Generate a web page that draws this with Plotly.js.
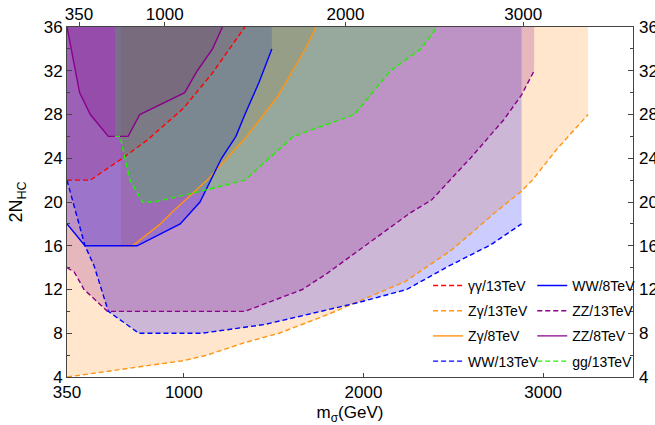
<!DOCTYPE html>
<html>
<head>
<meta charset="utf-8">
<script src="https://cdn.plot.ly/plotly-3.0.1.min.js"></script>
<style>html,body{margin:0;padding:0;background:#fff;}#chart{width:655px;height:425px;}</style>
</head>
<body>
<div id="chart"></div>
<script>
// ---- data ----
const names = ['γγ/13TeV', 'Zγ/13TeV', 'Zγ/8TeV', 'WW/13TeV', 'WW/8TeV', 'ZZ/13TeV', 'ZZ/8TeV', 'gg/13TeV'];

const aa13_x = [350, 480, 650, 800, 1000, 1160, 1340];
const aa13_y = [22, 22, 23.9, 25.7, 28.6, 31.8, 36];

const za13_x = [350, 1000, 1130, 1330, 1530, 1800, 1970, 2230, 2490, 2730, 2880, 2940, 3080, 3250];
const za13_y = [4, 5.5, 6, 7.1, 8, 9.7, 10.9, 12.7, 15.6, 19, 21, 22, 24.9, 28];

const za8_x = [650, 715, 870, 930, 1050, 1130, 1340, 1520, 1680, 1735];
const za8_y = [16, 16, 18, 19, 20.8, 22, 25.8, 29.6, 34.1, 36];

const ww13_x = [350, 450, 500, 580, 750, 1100, 1450, 1780, 1970, 2240, 2470, 2710, 2880];
const ww13_y = [22, 16, 14.2, 10, 8, 8, 8.8, 10.1, 10.8, 12, 14.1, 16.1, 18];

const ww8_x = [350, 450, 740, 980, 1090, 1150, 1210, 1290, 1340, 1420, 1490];
const ww8_y = [18, 16, 16, 18, 20, 22, 24, 26, 28, 31, 34];

const zz13_x = [350, 390, 445, 575, 1340, 1660, 1800, 2260, 2380, 2600, 2780, 2880, 2950];
const zz13_y = [14, 13.6, 12, 10, 10, 12, 13.5, 19, 20.2, 24.1, 27.5, 29.8, 32];

const zz8_x = [350, 385, 420, 480, 580, 690, 755, 1005, 1075, 1160, 1215];
const zz8_y = [36, 33, 30, 28, 26, 26, 28, 30, 32, 34, 36];

const gg13_x = [617, 645, 700, 770, 835, 1050, 1340, 1500, 1610, 1950, 2150, 2320, 2410];
const gg13_y = [26, 26, 22, 20, 20, 20.8, 22, 24.4, 26, 28, 32, 34, 36];

const xRange = [350, 3500];
const yRange = [4, 36];
const bottomTicks = [350, 1000, 2000, 3000];
const topTickVals = [417, 894, 1900, 2889];
const topTickText = ['350', '1000', '2000', '3000'];

// ---- styles ----
const series = [
  {x: aa13_x, y: aa13_y, rgb: '255,0,0',   line: '#ff0000', dash: '5px,3px', legend: 'legend'},
  {x: za13_x, y: za13_y, rgb: '255,128,0', line: '#ff9510', dash: '5px,3px', legend: 'legend'},
  {x: za8_x,  y: za8_y,  rgb: '255,128,0', line: '#ff9510', dash: 'solid',   legend: 'legend'},
  {x: ww13_x, y: ww13_y, rgb: '0,0,255',   line: '#0000ff', dash: '5px,3px', legend: 'legend'},
  {x: ww8_x,  y: ww8_y,  rgb: '0,0,255',   line: '#0000ff', dash: 'solid',   legend: 'legend2'},
  {x: zz13_x, y: zz13_y, rgb: '128,0,128', line: '#8a008a', dash: '5px,3px', legend: 'legend2'},
  {x: zz8_x,  y: zz8_y,  rgb: '128,0,128', line: '#8a008a', dash: 'solid',   legend: 'legend2'},
  {x: gg13_x, y: gg13_y, rgb: '0,255,0',   line: '#22ee00', dash: '5px,3px', legend: 'legend2'}
];

const TOP = yRange[1];
const traces = [];
// filled regions (from each curve up to the top of the frame)
series.forEach((s, i) => {
  const n = s.x.length;
  traces.push({
    type: 'scatter', mode: 'lines',
    x: s.x.concat([s.x[n - 1], s.x[0]]),
    y: s.y.concat([TOP, TOP]),
    fill: 'toself', fillcolor: 'rgba(' + s.rgb + ',0.2)',
    line: {width: 0, color: 'rgba(0,0,0,0)'},
    showlegend: false, hoverinfo: 'skip'
  });
});
// boundary curves (the last one is attached to the mirrored top/right axes, same ranges)
series.forEach((s, i) => {
  const last = i === series.length - 1;
  traces.push({
    type: 'scatter', mode: 'lines',
    x: s.x, y: s.y, name: names[i],
    xaxis: last ? 'x2' : 'x', yaxis: last ? 'y2' : 'y',
    line: {color: s.line, width: 1.4, dash: s.dash},
    legend: s.legend, legendgroup: 'g' + i
  });
});

const fontFam = '"Liberation Sans", Arial, sans-serif';
const frame = '#444';

const layout = {
  width: 655, height: 425,
  margin: {l: 67, r: 22, t: 27, b: 48},
  paper_bgcolor: '#fff', plot_bgcolor: '#fff',
  font: {family: fontFam, size: 17, color: '#000'},
  xaxis: {
    range: xRange, tickvals: bottomTicks, ticks: 'inside', ticklen: 4, tickcolor: frame,
    showline: true, linecolor: frame, linewidth: 1, mirror: true,
    showgrid: false, zeroline: false,
    tickfont: {size: 17},
    title: {text: 'm<sub>σ</sub>(GeV)', font: {size: 17}, standoff: 8}
  },
  xaxis2: {
    overlaying: 'x', side: 'top', anchor: 'y2',
    range: xRange, tickvals: topTickVals, ticktext: topTickText,
    ticks: 'outside', ticklen: 4, tickcolor: frame,
    showline: false, showgrid: false, zeroline: false,
    tickfont: {size: 17}, ticklabelstandoff: -5
  },
  yaxis: {
    range: yRange, tick0: 4, dtick: 4, ticks: 'inside', ticklen: 5, tickcolor: frame,
    minor: {dtick: 2, ticks: 'inside', ticklen: 3, tickcolor: frame},
    showline: true, linecolor: frame, linewidth: 1, mirror: true,
    showgrid: false, zeroline: false,
    tickfont: {size: 17},
    title: {text: '2N<sub>HC</sub>', font: {size: 18}, standoff: 16}
  },
  yaxis2: {
    overlaying: 'y', side: 'right', anchor: 'x2',
    range: yRange, tick0: 4, dtick: 4, ticks: 'inside', ticklen: 5, tickcolor: frame,
    minor: {dtick: 2, ticks: 'inside', ticklen: 3, tickcolor: frame},
    showline: false, showgrid: false, zeroline: false,
    tickfont: {size: 17}, ticklabelstandoff: 5
  },
  legend: {
    x: 0.638, y: 0.306, xanchor: 'left', yanchor: 'top',
    bgcolor: 'rgba(0,0,0,0)', borderwidth: 0,
    font: {family: fontFam, size: 14}, traceorder: 'grouped', tracegroupgap: 4
  },
  legend2: {
    x: 0.822, y: 0.306, xanchor: 'left', yanchor: 'top',
    bgcolor: 'rgba(0,0,0,0)', borderwidth: 0,
    font: {family: fontFam, size: 14}, traceorder: 'grouped', tracegroupgap: 4
  },
  showlegend: true
};

Plotly.newPlot('chart', traces, layout, {staticPlot: true, displayModeBar: false});
</script>
</body>
</html>
